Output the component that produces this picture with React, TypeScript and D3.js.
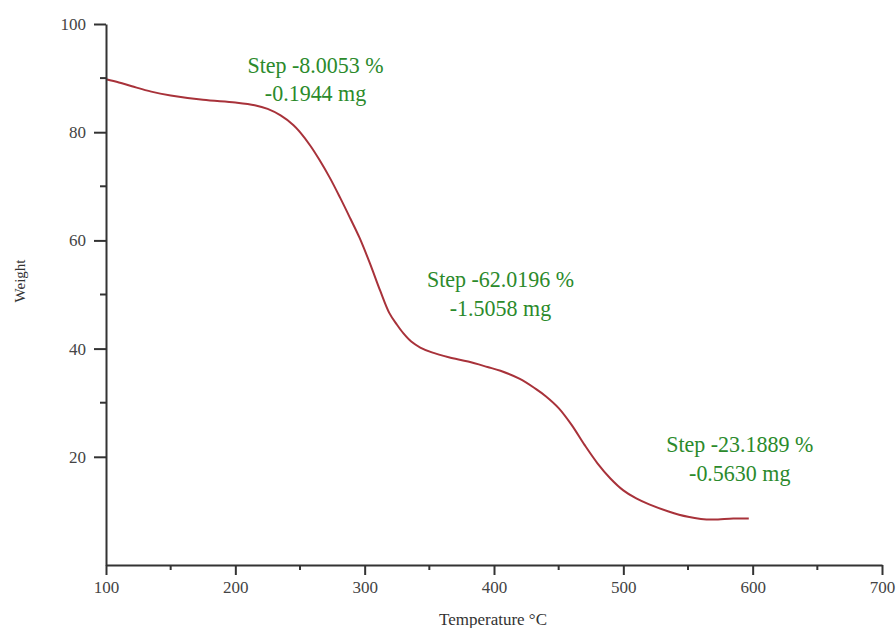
import * as d3 from "d3";
import { useEffect, useRef } from "react";

// TGA curve: temperature (°C) / weight (%)
const temps = [100, 110, 120, 135, 150, 175, 200, 215, 225, 235, 245, 250, 258, 265, 273, 281, 289, 296, 304, 312, 319, 325, 330, 336, 343, 352, 365, 380, 395, 405, 420, 432, 440, 450, 460, 470, 480, 490, 500, 510, 520, 535, 550, 560, 570, 585, 597];
const weights = [89.8, 89.2, 88.5, 87.5, 86.8, 86.0, 85.5, 85.0, 84.3, 83.1, 81.3, 80.0, 77.5, 74.9, 71.6, 67.9, 64.0, 60.5, 55.8, 50.7, 46.6, 44.4, 42.8, 41.3, 40.2, 39.3, 38.4, 37.6, 36.6, 35.9, 34.4, 32.6, 31.2, 29.0, 25.9, 22.2, 18.8, 16.0, 13.8, 12.3, 11.2, 9.9, 8.9, 8.5, 8.4, 8.6, 8.6];

const xTicks = [100, 200, 300, 400, 500, 600, 700];
const xMinorTicks = [150, 250, 350, 450, 550, 650];
const yTicks = [20, 40, 60, 80, 100];
const yMinorTicks = [30, 50, 70, 90];

// step annotations: anchor position in data units + two text lines
const stepX = [262, 405, 590];
const stepY = [90.9, 51.3, 20.8];
const stepLine1 = ["Step -8.0053 %", "Step -62.0196 %", "Step -23.1889 %"];
const stepLine2 = ["-0.1944 mg", "-1.5058 mg", "-0.5630 mg"];

function App() {
    const svgRef = useRef(null);

    useEffect(() => {
        const svg = d3.select(svgRef.current);
        svg.selectAll("*").remove();

        const width = 896;
        const height = 628;
        const margin = { top: 24, right: 14, bottom: 63, left: 106 };
        const axisColor = "#333";
        const font = "'Liberation Serif', 'Times New Roman', serif";

        const x = d3
            .scaleLinear()
            .domain([100, 700])
            .range([margin.left, width - margin.right]);

        const y = d3
            .scaleLinear()
            .domain([0, 100])
            .range([height - margin.bottom, margin.top]);

        const data = temps.map((t, i) => ({ t, w: weights[i] }));

        // curve
        const line = d3
            .line()
            .x(d => x(d.t))
            .y(d => y(d.w))
            .curve(d3.curveCatmullRom);

        svg
            .append("path")
            .datum(data)
            .attr("d", line)
            .attr("fill", "none")
            .attr("stroke", "#a8323a")
            .attr("stroke-width", 2);

        // x axis
        const gx = svg
            .append("g")
            .attr("transform", `translate(0, ${y(0)})`)
            .call(d3.axisBottom(x).tickValues(xTicks).tickSize(10).tickPadding(6).tickSizeOuter(0));
        gx.append("g")
            .selectAll("line")
            .data(xMinorTicks)
            .enter()
            .append("line")
            .attr("x1", d => x(d))
            .attr("x2", d => x(d))
            .attr("y1", 0)
            .attr("y2", 5);

        // y axis
        const gy = svg
            .append("g")
            .attr("transform", `translate(${x(100)}, 0)`)
            .call(d3.axisLeft(y).tickValues(yTicks).tickSize(12).tickPadding(8).tickSizeOuter(0));
        gy.append("g")
            .selectAll("line")
            .data(yMinorTicks)
            .enter()
            .append("line")
            .attr("x1", 0)
            .attr("x2", -6)
            .attr("y1", d => y(d))
            .attr("y2", d => y(d));

        [gx, gy].forEach(g => {
            g.select(".domain").attr("stroke", axisColor).attr("stroke-width", 2);
            g.selectAll("line").attr("stroke", axisColor).attr("stroke-width", 2);
            g.selectAll("text")
                .attr("fill", "#444")
                .style("font-family", font)
                .style("font-size", "17px");
        });

        // x label
        svg
            .append("text")
            .attr("x", 493)
            .attr("y", 625)
            .attr("text-anchor", "middle")
            .attr("fill", "#333")
            .style("font-family", font)
            .style("font-size", "17px")
            .text("Temperature °C");

        // y label
        svg
            .append("text")
            .attr("transform", "rotate(-90)")
            .attr("x", -281)
            .attr("y", 25)
            .attr("text-anchor", "middle")
            .attr("fill", "#333")
            .style("font-family", font)
            .style("font-size", "15px")
            .text("Weight");

        // step annotations (slightly stretched vertically like the source)
        const steps = svg
            .append("g")
            .selectAll("text")
            .data(stepX.map((sx, i) => ({ sx, sy: stepY[i], a: stepLine1[i], b: stepLine2[i] })))
            .enter()
            .append("text")
            .attr("transform", d => `translate(${x(d.sx)}, ${y(d.sy)}) scale(1, 1.08)`)
            .attr("text-anchor", "middle")
            .attr("fill", "#2b8a2b")
            .style("font-family", font)
            .style("font-size", "22px");

        steps.append("tspan")
            .attr("x", 0)
            .attr("y", 0)
            .text(d => d.a);
        steps.append("tspan")
            .attr("x", 0)
            .attr("y", 26)
            .text(d => d.b);

        return () => {
        };
    }, []);

    return (
        <svg
            ref={svgRef}
            width={896}
            height={628}
            style={{ position: "absolute", left: 0, top: 0, background: "#fff" }}
        />
    );
}

export default App;
